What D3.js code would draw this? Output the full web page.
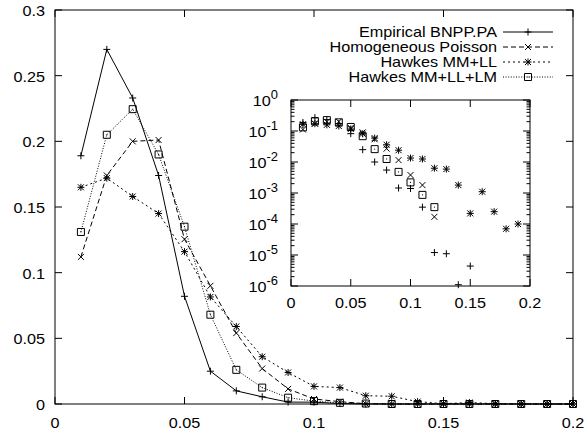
<!DOCTYPE html>
<html>
<head>
<meta charset="utf-8">
<script src="https://cdn.jsdelivr.net/npm/d3@7/dist/d3.min.js"></script>
<style>
  body { margin: 0; background: #fff; }
  svg text { font-family: "Liberation Sans", Arial, sans-serif; fill: #000; }
</style>
</head>
<body>
<svg id="graph" width="585" height="433"></svg>
<script>
// bin centres
const bins = [0.01, 0.02, 0.03, 0.04, 0.05, 0.06, 0.07, 0.08, 0.09, 0.10,
              0.11, 0.12, 0.13, 0.14, 0.15, 0.16, 0.17, 0.18, 0.19, 0.20];

const empirical = [0.189, 0.270, 0.233, 0.174, 0.082, 0.025, 0.010, 0.0055, 0.00145, 0.0014,
                   0.00035, 0.000012, 0.000011, 0.0000011, 0.0000044, 0, 0, 0, 0, 0];
const poisson = [0.112, 0.174, 0.200, 0.201, 0.1255, 0.090, 0.054, 0.027, 0.0115, 0.0038,
                 0.0018, 0.00017, 0, 0, 0, 0, 0, 0, 0, 0];
const hawkesLL = [0.165, 0.172, 0.158, 0.145, 0.116, 0.0815, 0.059, 0.036, 0.024, 0.0134,
                  0.0125, 0.0063, 0.0059, 0.0018, 0.00022, 0.0011, 0.00025, 0.00007, 0.0001, 0];
const hawkesLM = [0.131, 0.205, 0.2245, 0.190, 0.135, 0.068, 0.026, 0.0125, 0.0048, 0.0022,
                  0.00087, 0.00035, 0, 0, 0, 0, 0, 0, 0, 0];

const seriesNames = ["Empirical BNPP.PA", "Homogeneous Poisson", "Hawkes MM+LL", "Hawkes MM+LL+LM"];

const xTicks = [0, 0.05, 0.1, 0.15, 0.2];
const yTicks = [0, 0.05, 0.1, 0.15, 0.2, 0.25, 0.3];
const logTicks = [1e-6, 1e-5, 1e-4, 1e-3, 1e-2, 1e-1, 1];

const series = [
  { name: seriesNames[0], values: empirical, marker: "plus", dash: null },
  { name: seriesNames[1], values: poisson, marker: "cross", dash: "5,3" },
  { name: seriesNames[2], values: hawkesLL, marker: "star", dash: "2,3" },
  { name: seriesNames[3], values: hawkesLM, marker: "box", dash: "1,1.6" }
];

const svg = d3.select("#graph");
const FS = 15, SX = 1.08;   // font looks a bit wide in the original

// Scales
const x = d3.scaleLinear().domain([0, 0.2]).range([55, 573]);
const y = d3.scaleLinear().domain([0, 0.3]).range([404, 10]);
const xi = d3.scaleLinear().domain([0, 0.2]).range([291, 530]);
const yi = d3.scaleLog().domain([1e-6, 1]).range([286, 100]);

function label(g, px, py, anchor, str) {
  return g.append("text")
    .attr("transform", `translate(${px},${py}) scale(${SX},1)`)
    .attr("text-anchor", anchor)
    .style("font-size", FS + "px")
    .text(str);
}

function markerPath(type) {
  const s = 3.5, c = 3;
  const plus = `M${-s},0H${s}M0,${-s}V${s}`;
  const cross = `M${-c},${-c}L${c},${c}M${-c},${c}L${c},${-c}`;
  if (type === "plus") return plus;
  if (type === "cross") return cross;
  if (type === "star") return plus + cross;
  return `M${-s},${-s}H${s}V${s}H${-s}Z`;
}

function drawMarker(g, type, px, py) {
  g.append("path")
    .attr("d", markerPath(type))
    .attr("transform", `translate(${px},${py})`)
    .attr("fill", "none")
    .attr("stroke", "#000")
    .attr("stroke-width", 1);
  if (type === "box") {
    g.append("rect").attr("x", px - 0.5).attr("y", py - 0.5)
      .attr("width", 1).attr("height", 1).attr("fill", "#000");
  }
}

// Main frame + ticks
const main = svg.append("g");
main.append("rect")
  .attr("x", x(0)).attr("y", y(0.3))
  .attr("width", x(0.2) - x(0)).attr("height", y(0) - y(0.3))
  .attr("fill", "none").attr("stroke", "#000");

xTicks.forEach(t => {
  main.append("line").attr("x1", x(t)).attr("x2", x(t)).attr("y1", y(0)).attr("y2", y(0) - 7).attr("stroke", "#000");
  main.append("line").attr("x1", x(t)).attr("x2", x(t)).attr("y1", y(0.3)).attr("y2", y(0.3) + 7).attr("stroke", "#000");
  label(main, x(t), 428, "middle", t === 0 ? "0" : d3.format("~g")(t));
});
yTicks.forEach(t => {
  main.append("line").attr("x1", x(0)).attr("x2", x(0) + 7).attr("y1", y(t)).attr("y2", y(t)).attr("stroke", "#000");
  main.append("line").attr("x1", x(0.2)).attr("x2", x(0.2) - 7).attr("y1", y(t)).attr("y2", y(t)).attr("stroke", "#000");
  label(main, 45, y(t) + 6, "end", t === 0 ? "0" : d3.format("~g")(t));
});

// Main curves
const line = d3.line().x((d, i) => x(bins[i])).y(d => y(d));
series.forEach(s => {
  const g = main.append("g");
  g.append("path").datum(s.values)
    .attr("d", line)
    .attr("fill", "none").attr("stroke", "#000").attr("stroke-width", 1)
    .attr("stroke-dasharray", s.dash);
  s.values.forEach((v, i) => drawMarker(g, s.marker, x(bins[i]), y(v)));
});

// Legend
const legend = svg.append("g");
series.forEach((s, i) => {
  const cy = 32 + i * 15;
  label(legend, 497, cy + 5, "end", s.name);
  legend.append("line").attr("x1", 503).attr("x2", 553).attr("y1", cy).attr("y2", cy)
    .attr("stroke", "#000").attr("stroke-dasharray", s.dash);
  drawMarker(legend, s.marker, 528, cy);
});

// Inset
const inset = svg.append("g");
inset.append("rect")
  .attr("x", xi(0)).attr("y", yi(1))
  .attr("width", xi(0.2) - xi(0)).attr("height", yi(1e-6) - yi(1))
  .attr("fill", "#fff").attr("stroke", "#000");

xTicks.forEach(t => {
  inset.append("line").attr("x1", xi(t)).attr("x2", xi(t)).attr("y1", yi(1e-6)).attr("y2", yi(1e-6) - 7).attr("stroke", "#000");
  inset.append("line").attr("x1", xi(t)).attr("x2", xi(t)).attr("y1", yi(1)).attr("y2", yi(1) + 7).attr("stroke", "#000");
  label(inset, xi(t), 308, "middle", t === 0 ? "0" : d3.format("~g")(t));
});
logTicks.forEach(t => {
  inset.append("line").attr("x1", xi(0)).attr("x2", xi(0) + 7).attr("y1", yi(t)).attr("y2", yi(t)).attr("stroke", "#000");
  inset.append("line").attr("x1", xi(0.2)).attr("x2", xi(0.2) - 7).attr("y1", yi(t)).attr("y2", yi(t)).attr("stroke", "#000");
  if (t < 1) {
    for (let m = 2; m <= 9; m++) {
      const yy = yi(t * m);
      inset.append("line").attr("x1", xi(0)).attr("x2", xi(0) + 3.5).attr("y1", yy).attr("y2", yy).attr("stroke", "#000");
      inset.append("line").attr("x1", xi(0.2)).attr("x2", xi(0.2) - 3.5).attr("y1", yy).attr("y2", yy).attr("stroke", "#000");
    }
  }
  const exp = Math.round(Math.log10(t));
  const txt = label(inset, 278, yi(t) + 6, "end", null);
  txt.append("tspan").text("10");
  txt.append("tspan").attr("dy", -7).style("font-size", "12px").text(String(exp));
});

series.forEach(s => {
  s.values.forEach((v, i) => {
    if (v > 0) drawMarker(inset, s.marker, xi(bins[i]), yi(v));
  });
});
</script>
</body>
</html>
